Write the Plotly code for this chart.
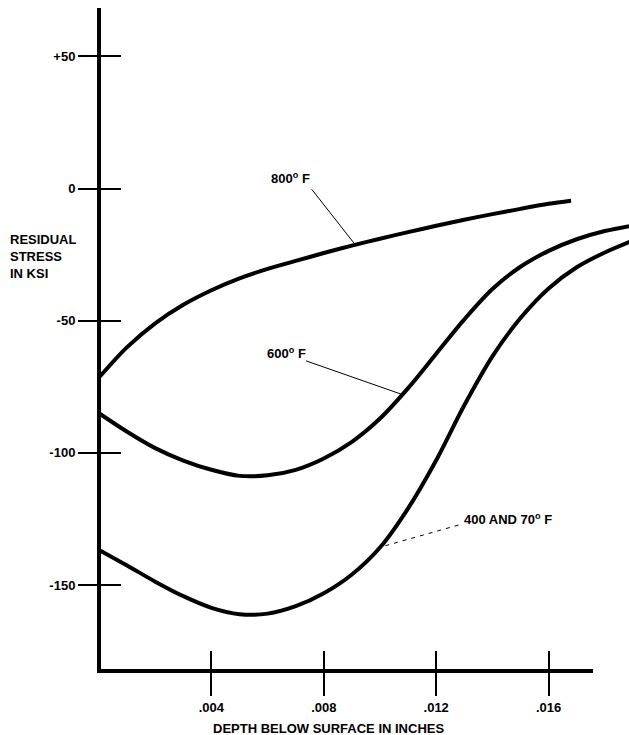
import numpy as np
import plotly.graph_objects as go

# Residual stress (ksi) against depth below the surface (in), one series per temperature
depth_800 = [0.0, 0.001, 0.002, 0.003, 0.004, 0.005, 0.006, 0.007, 0.008, 0.009,
             0.010, 0.011, 0.012, 0.013, 0.014, 0.015, 0.016, 0.0168]
stress_800 = [-71.5, -60.0, -51.0, -44.0, -38.5, -34.0, -30.4, -27.4, -24.4, -21.6,
              -19.0, -16.5, -14.1, -11.8, -9.7, -7.7, -5.8, -4.6]

depth_600 = [0.0, 0.001, 0.002, 0.003, 0.004, 0.005, 0.006, 0.007, 0.008, 0.009,
             0.010, 0.011, 0.012, 0.013, 0.014, 0.015, 0.016, 0.017, 0.018, 0.0189]
stress_600 = [-85.0, -92.0, -98.2, -102.9, -106.4, -108.7, -108.5, -106.4, -102.1, -95.8,
              -87.0, -75.5, -62.5, -49.5, -38.0, -29.6, -23.6, -19.2, -16.1, -14.2]

depth_400 = [0.0, 0.001, 0.002, 0.003, 0.004, 0.005, 0.006, 0.007, 0.008, 0.009,
             0.010, 0.011, 0.012, 0.013, 0.014, 0.015, 0.016, 0.017, 0.018, 0.0189]
stress_400 = [-136.7, -142.6, -148.7, -154.2, -158.6, -161.0, -160.8, -158.0, -153.1, -146.0,
              -135.8, -121.0, -102.8, -82.0, -63.5, -49.0, -37.8, -29.8, -24.2, -20.1]

series_names = ["800<sup>o</sup> F", "600<sup>o</sup> F", "400 AND 70<sup>o</sup> F"]

y_tick_vals = [50, 0, -50, -100, -150]
y_tick_text = ["+50", "0", "-50", "-100", "-150"]
x_tick_vals = [0.004, 0.008, 0.012, 0.016]
x_tick_text = [".004", ".008", ".012", ".016"]

# Drawing extents
FIG_W, FIG_H = 629, 735
MARGIN = dict(l=99, r=0, t=8, b=64)
PLOT_W = FIG_W - MARGIN["l"] - MARGIN["r"]
PLOT_H = FIG_H - MARGIN["t"] - MARGIN["b"]
X_RANGE = [0.0, 0.018861]
X_AXIS_END = 0.01758          # depth where the drawn abscissa stops
Y_RANGE = [-182.5, 68.27]
AXIS_W = 4

INK = "black"
FONT = dict(family="Liberation Sans, Arial, sans-serif", size=13, color=INK, weight=700)

fig = go.Figure()

# Each curve sits on a matched axis pair so that both halves of the crossing ticks get drawn
curves = [
    (depth_800, stress_800, series_names[0], "x", "y"),
    (depth_600, stress_600, series_names[1], "x2", "y"),
    (depth_400, stress_400, series_names[2], "x", "y2"),
]
for xs, ys, name, xa, ya in curves:
    fig.add_trace(go.Scatter(
        x=xs, y=ys, mode="lines", name=name,
        line=dict(color=INK, width=4, shape="spline", smoothing=0.9),
        xaxis=xa, yaxis=ya, showlegend=False, hoverinfo="skip",
    ))

# Curve labels with thin leader lines running to the curves
labels = [
    # text, label anchor (x, y), leader start (x, y), depth where the leader meets the curve, curve, dash
    (series_names[0], (0.00606, 3.9), (0.00757, -0.3), 0.00912, (depth_800, stress_800), "solid"),
    (series_names[1], (0.00591, -62.3), (0.00737, -65.2), 0.01079, (depth_600, stress_600), "solid"),
    (series_names[2], (0.01291, -125.0), (0.01279, -127.3), 0.01001, (depth_400, stress_400), "4px,5px"),
]
for text, (tx, ty), (lx, ly), hit_x, (cx, cy), dash in labels:
    hit_y = float(np.interp(hit_x, cx, cy))
    fig.add_shape(type="line", xref="x", yref="y", x0=lx, y0=ly, x1=hit_x, y1=hit_y,
                  line=dict(color=INK, width=1, dash=dash))
    fig.add_annotation(x=tx, y=ty, xref="x", yref="y", text=text, showarrow=False,
                       xanchor="left", yanchor="middle", font=FONT)

# Heavy axis lines: the ordinate runs full height, the abscissa stops short of the right edge
x_end_paper = (X_AXIS_END - X_RANGE[0]) / (X_RANGE[1] - X_RANGE[0])
half_w = AXIS_W / 2
fig.add_shape(type="line", xref="paper", yref="paper", x0=0, x1=0,
              y0=-half_w / PLOT_H, y1=1, line=dict(color=INK, width=AXIS_W))
fig.add_shape(type="line", xref="paper", yref="paper", x0=-half_w / PLOT_W, x1=x_end_paper,
              y0=0, y1=0, line=dict(color=INK, width=AXIS_W))

# Axis titles
fig.add_annotation(x=0, y=-25.9, xref="paper", yref="y", xshift=-91,
                   text="RESIDUAL<br>STRESS<br>IN KSI", showarrow=False,
                   xanchor="left", yanchor="middle", align="left", font=FONT)
fig.add_annotation(x=0.00817, y=0, xref="x", yref="paper", yshift=-57,
                   text="DEPTH BELOW SURFACE IN INCHES", showarrow=False,
                   xanchor="center", yanchor="middle", font=FONT)

common = dict(tickcolor=INK, tickwidth=2, showgrid=False, zeroline=False, fixedrange=True,
              showline=False)

fig.update_layout(
    width=FIG_W, height=FIG_H, margin=MARGIN,
    paper_bgcolor="white", plot_bgcolor="white",
    xaxis=dict(domain=[0, 1], range=X_RANGE, anchor="y",
               ticks="outside", ticklen=24, tickvals=x_tick_vals, ticktext=x_tick_text,
               tickfont=FONT, ticklabelstandoff=0, **common),
    xaxis2=dict(overlaying="x", anchor="y", range=X_RANGE, matches="x",
                ticks="inside", ticklen=20, tickvals=x_tick_vals, showticklabels=False,
                **common),
    yaxis=dict(domain=[0, 1], range=Y_RANGE, anchor="x",
               ticks="outside", ticklen=20, tickvals=y_tick_vals, ticktext=y_tick_text,
               tickfont=FONT, ticklabelstandoff=0, **common),
    yaxis2=dict(overlaying="y", anchor="x", side="left", range=Y_RANGE, matches="y",
                ticks="inside", ticklen=22, tickvals=y_tick_vals, showticklabels=False,
                **common),
)

fig.write_html("out.html")
